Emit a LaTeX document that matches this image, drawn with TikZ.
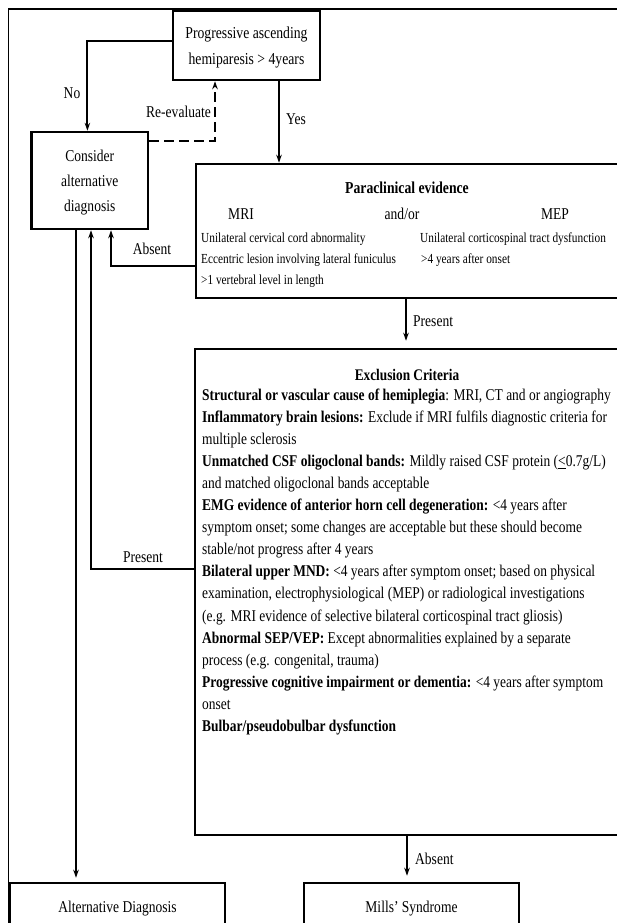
\documentclass[tikz,border=0pt]{standalone}
\usepackage{fontspec}
\setmainfont[FakeStretch=0.82]{Liberation Serif}
\usetikzlibrary{arrows.meta}
\begin{document}
\begin{tikzpicture}[x=1pt,y=-1pt,
  boxnode/.style={draw,line width=2.5pt,inner sep=0pt,align=center,font=\fontsize{16.5}{25}\selectfont},
  arr/.style={line width=1.9pt,-{Stealth[length=8pt,width=5.5pt]}},
  lbl/.style={font=\fontsize{16.5}{18}\selectfont,inner sep=0pt},
  body/.style={font=\fontsize{16.4}{22}\selectfont,anchor=base west,inner sep=0pt},
  sub/.style={font=\fontsize{13.8}{18}\selectfont,anchor=base west,inner sep=0pt},
  mid/.style={font=\fontsize{16.5}{18}\selectfont,anchor=base,inner sep=0pt}]
\useasboundingbox (0,0) rectangle (617,923);
% outer frame
\draw[line width=1.3pt] (8.5,960) |- (640,9);
% boxes
\node[boxnode,minimum width=147pt,minimum height=69pt] (top) at (246.5,45.5) {};
\node[font=\fontsize{16.7}{26}\selectfont,align=center,inner sep=0pt] (toptext) at (246.5,47.5)
  {Progressive ascending\\hemiparesis > 4years};
\node[boxnode,minimum width=116.5pt,minimum height=97pt] (consider) at (89.75,180.5) {};
\node[font=\fontsize{16.5}{25}\selectfont,align=center,inner sep=0pt] (constext) at (89.75,183)
  {Consider\\alternative\\diagnosis};
\node[boxnode,minimum width=434pt,minimum height=134pt] (para) at (413,231) {};
\node[boxnode,minimum width=435pt,minimum height=486pt] (excl) at (412.5,592) {};
\node[boxnode,minimum width=215pt,minimum height=67pt,text depth=20pt] (alt) at (117.5,916.5) {Alternative Diagnosis};
\node[boxnode,minimum width=215pt,minimum height=67pt,text depth=20pt] (mills) at (411.5,916.5) {Mills’ Syndrome};
% paraclinical text
\node[mid,font=\fontsize{16.7}{18}\selectfont\bfseries] (parahead) at (407,193) {Paraclinical evidence};
\node[mid] (mri) at (241,219.5) {MRI};
\node[mid] (andor) at (402,219.5) {and/or};
\node[mid] (mep) at (555,219.5) {MEP};
\node[sub] (p1) at (201,242.5) {Unilateral cervical cord abnormality};
\node[sub] (p2) at (201,263) {Eccentric lesion involving lateral funiculus};
\node[sub] (p3) at (201,284.5) {>1 vertebral level in length};
\node[sub] (p4) at (420,242.5) {Unilateral corticospinal tract dysfunction};
\node[sub] (p5) at (421,263) {>4 years after onset};
% exclusion text
\node[mid,font=\fontsize{16.2}{18}\selectfont\bfseries] (exhead) at (407,380) {Exclusion Criteria};
\foreach \t [count=\i] in {
  {\textbf{Structural or vascular cause of hemiplegia}: MRI, CT and or angiography},
  {\textbf{Inflammatory brain lesions:} Exclude if MRI fulfils diagnostic criteria for},
  {multiple sclerosis},
  {\textbf{Unmatched CSF oligoclonal bands:} Mildly raised CSF protein (\underline{<}0.7g/L)},
  {and matched oligoclonal bands acceptable},
  {\textbf{EMG evidence of anterior horn cell degeneration:} <4 years after},
  {symptom onset; some changes are acceptable but these should become},
  {stable/not progress after 4 years},
  {\textbf{Bilateral upper MND:} <4 years after symptom onset; based on physical},
  {examination, electrophysiological (MEP) or radiological investigations},
  {(e.g. MRI evidence of selective bilateral corticospinal tract gliosis)},
  {\textbf{Abnormal SEP/VEP:} Except abnormalities explained by a separate},
  {process (e.g. congenital, trauma)},
  {\textbf{Progressive cognitive impairment or dementia:} <4 years after symptom},
  {onset},
  {\textbf{Bulbar/pseudobulbar dysfunction}}}
  \node[body] (ex\i) at (202,{400+22.1*(\i-1)}) {\t};
% connectors
\draw[arr] ([yshift=4.5pt]top.west) -| ([xshift=-2.35pt]consider.north);
\node[lbl] (no) at (72,93) {No};
\draw[line width=2pt,dash pattern=on 10pt off 5pt,-{Stealth[length=8pt,width=5.5pt]}]
  ([yshift=39.5pt]consider.east) -| ([xshift=-31.5pt]top.south);
\node[lbl,anchor=east] (reeval) at (211,112) {Re-evaluate};
\draw[arr] ([xshift=32.5pt]top.south) -- ([xshift=32.5pt]top.south |- para.north);
\node[lbl,anchor=west] (yes) at (286,119) {Yes};
\draw[arr] ([yshift=-35pt]para.west) -| ([xshift=21.25pt]consider.south);
\node[lbl] (absent1) at (152,249) {Absent};
\draw[arr,shorten >=7pt] ([xshift=-7pt]para.south) -- ([xshift=-7pt]para.south |- excl.north);
\node[lbl,anchor=west] (present1) at (413,321) {Present};
\draw[arr] ([yshift=23pt]excl.west) -| ([xshift=1.25pt]consider.south);
\node[lbl] (present2) at (143,557) {Present};
\draw[arr,shorten >=4pt] ([xshift=-13.75pt]consider.south) -- ([xshift=-13.75pt]consider.south |- alt.north);
\draw[arr,shorten >=6pt] ([xshift=-5.5pt]excl.south) -- ([xshift=-5.5pt]excl.south |- mills.north);
\node[lbl,anchor=west] (absent2) at (415,859) {Absent};
\end{tikzpicture}
\end{document}
